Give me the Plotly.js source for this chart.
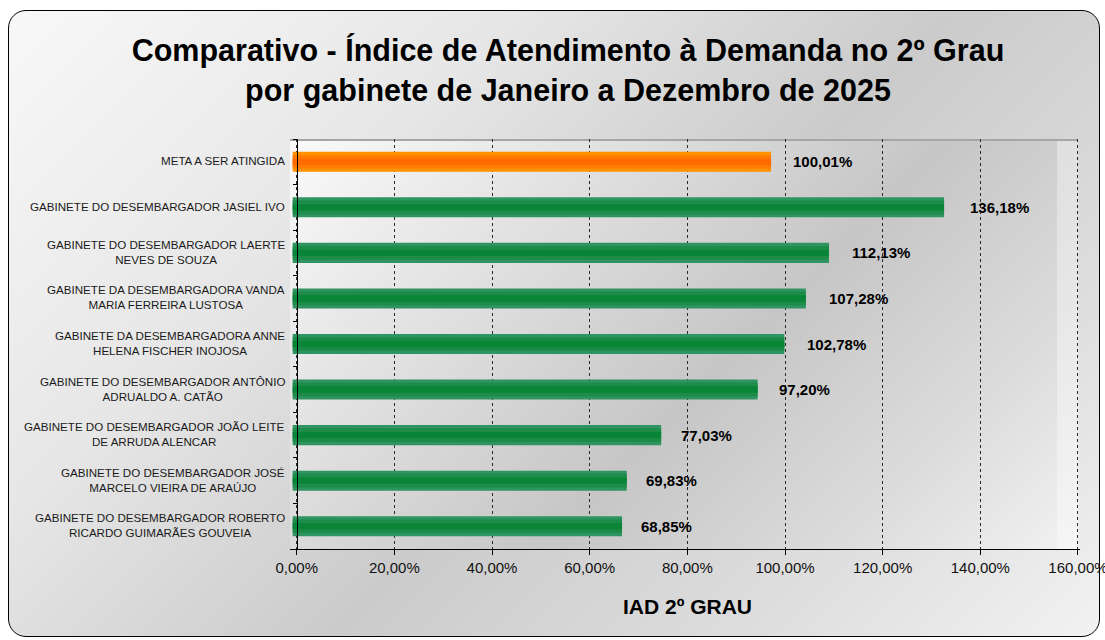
<!DOCTYPE html>
<html>
<head>
<meta charset="utf-8">
<script src="https://cdn.plot.ly/plotly-3.0.1.min.js"></script>
<style>
  html, body { margin: 0; padding: 0; background: #ffffff; }
  #wrap { position: relative; width: 1105px; height: 640px; overflow: hidden; background: #ffffff; }
  #frame { position: absolute; left: 8px; top: 10px; width: 1090px; height: 625px;
    border: 1.5px solid #000; border-radius: 18px;
    background: linear-gradient(135deg, #f8f8f8 0%, #e6e6e6 30%, #cbcbcb 55%, #dedede 80%, #f2f2f2 100%); }
  #plotbg { position: absolute; left: 290px; top: 139px; width: 788px; height: 410px;
    border-top: 2px solid #a6a6a6; box-sizing: border-box;
    background: linear-gradient(135deg, #fafafa 0%, #dedede 30%, #c6c6c6 55%, #dcdcdc 80%, #f2f2f2 100%); }
  #wall { position: absolute; left: 1057px; top: 141px; width: 21px; height: 408px;
    background: rgba(255,255,255,0.35); }
  #chart { position: absolute; left: 0; top: 0; width: 1105px; height: 640px; }
</style>
</head>
<body>
<div id="wrap">
  <div id="frame"></div>
  <div id="plotbg"></div>
  <div id="wall"></div>
  <div id="chart"></div>
</div>
<script>
// ---- data ----
const categories = [
  "META A SER ATINGIDA",
  "GABINETE DO DESEMBARGADOR JASIEL IVO",
  "GABINETE DO DESEMBARGADOR LAERTE<br>NEVES DE SOUZA",
  "GABINETE DA DESEMBARGADORA VANDA<br>MARIA FERREIRA LUSTOSA",
  "GABINETE DA DESEMBARGADORA ANNE<br>HELENA FISCHER INOJOSA",
  "GABINETE DO DESEMBARGADOR ANTÔNIO<br>ADRUALDO A. CATÃO",
  "GABINETE DO DESEMBARGADOR JOÃO LEITE<br>DE ARRUDA ALENCAR",
  "GABINETE DO DESEMBARGADOR JOSÉ<br>MARCELO VIEIRA DE ARAÚJO",
  "GABINETE DO DESEMBARGADOR ROBERTO<br>RICARDO GUIMARÃES GOUVEIA"
];
const iadValues = [100.01, 136.18, 112.13, 107.28, 102.78, 97.20, 77.03, 69.83, 68.85];
const xTickValues = [0, 20, 40, 60, 80, 100, 120, 140, 160];
const titleText = "Comparativo - Índice de Atendimento à Demanda no 2º Grau<br>por gabinete de Janeiro a Dezembro de 2025";
const axisTitleText = "IAD 2º GRAU";

// ---- styles ----
const FONT = "Liberation Sans, Arial, Helvetica, sans-serif";
const isMeta = categories.map((c, i) => i === 0);
const layers = [
  { width: 0.44, meta: "#ff9200", other: "#2e9461" },
  { width: 0.30, meta: "#ff7c00", other: "#1c8c48" },
  { width: 0.14, meta: "#ff6a00", other: "#0a8436" }
];

const fmt = v => v.toFixed(2).replace(".", ",") + "%";

const PLOT_L = 290, PLOT_R = 1080;
const X0 = 296.7, PXU = 4.883;     // main (grid) axis
const B0 = 292.7, BPXU = 4.783;    // bar axis

const traces = layers.map(L => ({
  type: "bar",
  orientation: "h",
  x: iadValues,
  y: categories,
  xaxis: "x2",
  yaxis: "y",
  width: L.width,
  marker: { color: isMeta.map(m => m ? L.meta : L.other), line: { width: 0 } },
  hoverinfo: "skip",
  showlegend: false
}));

const annotations = [];
categories.forEach((c, i) => {
  annotations.push({
    xref: "x", yref: "y", x: iadValues[i], y: c,
    xanchor: "left", yanchor: "middle", xshift: 6,
    text: fmt(iadValues[i]), showarrow: false,
    font: { family: FONT, size: 15, color: "#000", weight: "bold" }
  });
  annotations.push({
    xref: "paper", yref: "y", x: -3 / (PLOT_R - PLOT_L), y: c,
    xanchor: "right", yanchor: "middle", align: "center",
    text: c, showarrow: false, yshift: 1,
    font: { family: FONT, size: 11.6, color: "#1a1a1a" }
  });
});
annotations.push({
  xref: "paper", yref: "paper", x: (687 - PLOT_L) / (PLOT_R - PLOT_L), y: -(606 - 549) / 410,
  xanchor: "center", yanchor: "middle", showarrow: false,
  text: axisTitleText,
  font: { family: FONT, size: 21, color: "#000", weight: "bold" }
});

const layout = {
  width: 1105, height: 640,
  margin: { l: PLOT_L, r: 1105 - PLOT_R, t: 139, b: 91, pad: 0 },
  paper_bgcolor: "rgba(0,0,0,0)",
  plot_bgcolor: "rgba(0,0,0,0)",
  separators: ",.",
  barmode: "overlay",
  showlegend: false,
  title: {
    text: titleText,
    x: 568 / 1105, xanchor: "center", xref: "container",
    y: 1 - 61 / 640, yanchor: "top", yref: "container",
    font: { family: FONT, size: 30.5, color: "#000", weight: "bold" }
  },
  xaxis: {
    range: [-(X0 - PLOT_L) / PXU, (PLOT_R - X0) / PXU],
    tickmode: "array",
    tickvals: xTickValues,
    ticktext: xTickValues.map(fmt),
    ticklabeloverflow: "allow",
    ticks: "outside", ticklen: 5, tickcolor: "#000", tickwidth: 1,
    showline: true, linecolor: "#000", linewidth: 1.2,
    showgrid: true, gridcolor: "#2a2a2a", griddash: "dot", gridwidth: 1,
    zeroline: false,
    tickfont: { family: FONT, size: 15, color: "#111" },
    anchor: "y", fixedrange: true
  },
  xaxis2: {
    overlaying: "x", anchor: "y",
    range: [-(B0 - PLOT_L) / BPXU, (PLOT_R - B0) / BPXU],
    visible: false, fixedrange: true
  },
  yaxis: {
    type: "category",
    categoryorder: "array", categoryarray: categories,
    range: [8.5, -0.5], autorange: false,
    showticklabels: false,
    ticks: "outside", tickson: "boundaries", ticklen: 4, tickcolor: "#000",
    showline: true, linecolor: "#000", linewidth: 1.2,
    showgrid: false, zeroline: false,
    anchor: "free", position: (X0 - PLOT_L) / (PLOT_R - PLOT_L),
    fixedrange: true
  },
  annotations: annotations
};

Plotly.newPlot("chart", traces, layout, { displayModeBar: false, staticPlot: true });
</script>
</body>
</html>
